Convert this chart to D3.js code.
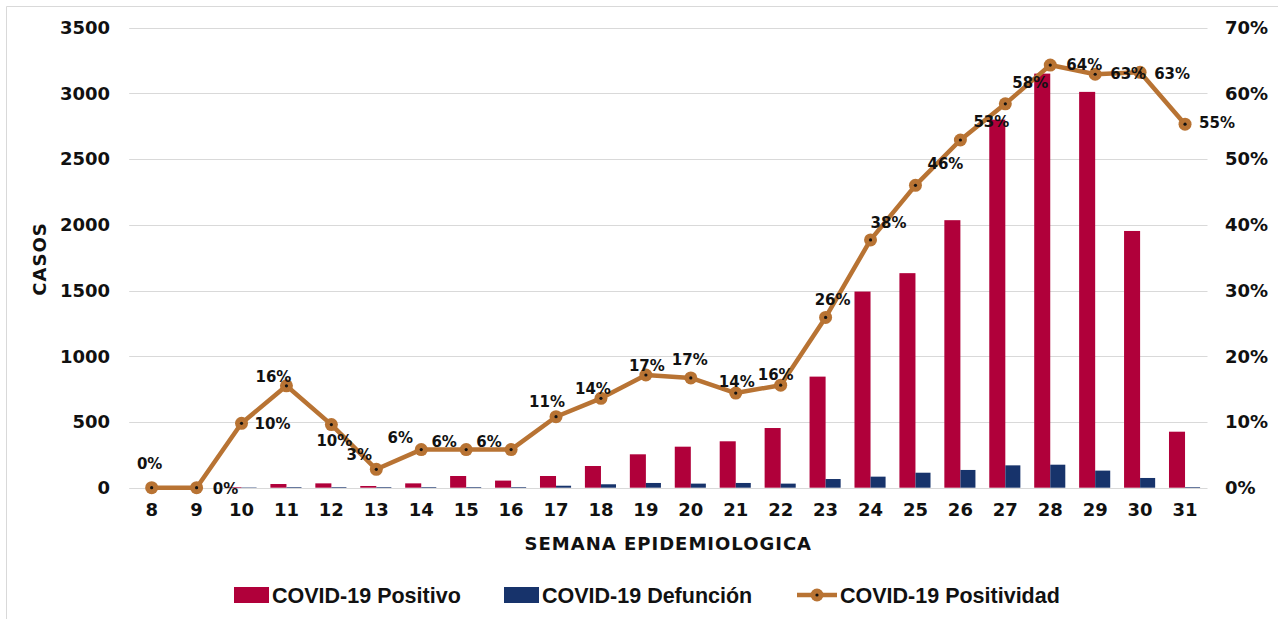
<!DOCTYPE html>
<html>
<head>
<meta charset="utf-8">
<script src="https://cdn.jsdelivr.net/npm/d3@7/dist/d3.min.js"></script>
<style>
  html, body { margin: 0; padding: 0; background: #fff; }
  svg { display: block; }
</style>
</head>
<body>
<svg id="chart" width="1278" height="619"></svg>
<script>
// ---- Data ----
const weeks = ["8","9","10","11","12","13","14","15","16","17","18","19","20","21","22","23","24","25","26","27","28","29","30","31"];
const positivo = [0,0,5,28,33,13,33,89,54,89,165,254,312,353,454,845,1492,1632,2035,2800,3150,3011,1953,426];
const defuncion = [0,0,3,5,5,5,5,5,5,15,26,36,31,36,31,66,84,114,135,170,175,130,74,5];
const positividad = [0,0,9.8,15.5,9.6,2.8,5.8,5.8,5.8,10.8,13.6,17.15,16.7,14.4,15.6,25.9,37.7,46.0,52.9,58.4,64.3,62.9,63.2,55.3];
const leftTicks = [0,500,1000,1500,2000,2500,3000,3500];
const rightTicks = [0,10,20,30,40,50,60,70];
const seriesNames = ["COVID-19 Positivo","COVID-19 Defunción","COVID-19 Positividad"];

// label placement offsets (layout, not data)
const labelOffsets = [[-2,-24],[29,1],[31,0],[-13,-9],[3,16],[-17,-15],[-21,-12],[-22,-8],[-22,-8],
  [-9,-15],[-8,-10],[1,-9],[-1,-18],[1,-11],[-5,-10],[7,-18],[18,-17],[30,-22],[31,-18],[25,-21],
  [34,0],[33,-1],[32,1],[32,-1]];

const colors = { pos: "#B0003A", def: "#17336B", line: "#B87333", grid: "#D9D9D9" };
const axisFont = "DejaVu Sans, sans-serif";

const svg = d3.select("#chart");

// frame
svg.append("path").attr("d", "M6.5,619 L6.5,6.5 L1278,6.5").attr("fill","none").attr("stroke","#D9D9D9").attr("stroke-width",1);

const plot = { left: 129.2, right: 1207.5, top: 27.6, bottom: 487.7 };

const x = d3.scaleBand().domain(weeks).range([plot.left, plot.right]).padding(0);
const xSub = d3.scaleBand().domain(["pos","def"]).range([0, x.bandwidth()]).paddingInner(0).paddingOuter(0.4);
const yL = d3.scaleLinear().domain([0,3500]).range([plot.bottom, plot.top]);
const yR = d3.scaleLinear().domain([0,70]).range([plot.bottom, plot.top]);

// gridlines
svg.append("g").selectAll("line").data(leftTicks).join("line")
  .attr("x1", plot.left).attr("x2", plot.right)
  .attr("y1", d => Math.round(yL(d)) + 0.5).attr("y2", d => Math.round(yL(d)) + 0.5)
  .attr("stroke", colors.grid).attr("stroke-width", 1);

// left axis
const leftAxis = d3.axisLeft(yL).tickValues(leftTicks).tickSize(0).tickPadding(0).tickFormat(d3.format("d"));
const gL = svg.append("g").attr("transform", "translate(110,0)").call(leftAxis);
gL.select(".domain").remove();
gL.selectAll("text").attr("font-family", axisFont).attr("font-weight", "bold").attr("font-size", 18).attr("fill", "#111");

// right axis
const rightAxis = d3.axisRight(yR).tickValues(rightTicks).tickSize(0).tickPadding(0).tickFormat(d => d + "%");
const gR = svg.append("g").attr("transform", "translate(1225,0)").call(rightAxis);
gR.select(".domain").remove();
gR.selectAll("text").attr("font-family", axisFont).attr("font-weight", "bold").attr("font-size", 18).attr("fill", "#111");

// bottom axis
const bottomAxis = d3.axisBottom(x).tickSize(0).tickPadding(0);
const gB = svg.append("g").attr("transform", `translate(0,${plot.bottom + 16})`).call(bottomAxis);
gB.select(".domain").remove();
gB.selectAll("text").attr("font-family", axisFont).attr("font-weight", "bold").attr("font-size", 18).attr("fill", "#111");

// axis titles
svg.append("text").attr("x", plot.left + (plot.right - plot.left)/2).attr("y", 550)
  .attr("text-anchor","middle").attr("font-family", axisFont).attr("font-weight","bold").attr("font-size",18).attr("fill","#111")
  .attr("letter-spacing", 1)
  .text("SEMANA EPIDEMIOLOGICA");
svg.append("text").attr("transform","translate(46,259) rotate(-90)")
  .attr("text-anchor","middle").attr("font-family", axisFont).attr("font-weight","bold").attr("font-size",18).attr("fill","#111")
  .attr("letter-spacing", 1)
  .text("CASOS");

// bars
const gBars = svg.append("g");
gBars.selectAll("rect.pos").data(weeks).join("rect").attr("class","pos")
  .attr("x", (d) => x(d) + xSub("pos")).attr("width", xSub.bandwidth())
  .attr("y", (d,i) => yL(positivo[i])).attr("height", (d,i) => plot.bottom - yL(positivo[i]))
  .attr("fill", colors.pos);
gBars.selectAll("rect.def").data(weeks).join("rect").attr("class","def")
  .attr("x", (d) => x(d) + xSub("def")).attr("width", xSub.bandwidth() - 1)
  .attr("y", (d,i) => yL(defuncion[i])).attr("height", (d,i) => plot.bottom - yL(defuncion[i]))
  .attr("fill", colors.def);

// line
const cx = d => x(d) + x.bandwidth()/2;
const line = d3.line().x((d,i) => cx(weeks[i])).y(d => yR(d));
svg.append("path").datum(positividad).attr("d", line)
  .attr("fill","none").attr("stroke", colors.line).attr("stroke-width", 4.5).attr("stroke-linejoin","round");
const gPts = svg.append("g");
gPts.selectAll("circle.m").data(positividad).join("circle").attr("class","m")
  .attr("cx", (d,i) => cx(weeks[i])).attr("cy", d => yR(d)).attr("r", 6.5).attr("fill", colors.line);
gPts.selectAll("circle.c").data(positividad).join("circle").attr("class","c")
  .attr("cx", (d,i) => cx(weeks[i])).attr("cy", d => yR(d)).attr("r", 1.6).attr("fill", "#111");

// data labels
svg.append("g").selectAll("text").data(positividad).join("text")
  .attr("x", (d,i) => cx(weeks[i]) + labelOffsets[i][0])
  .attr("y", (d,i) => yR(d) + labelOffsets[i][1])
  .attr("dy","0.35em").attr("text-anchor","middle")
  .attr("font-family", axisFont).attr("font-weight","bold").attr("font-size",15).attr("fill","#111")
  .text(d => Math.round(d) + "%");

// legend
const legendFont = "Liberation Sans, Arial, sans-serif";
const lg = svg.append("g");
const legendItems = [
  { name: seriesNames[0], type: "rect", color: colors.pos, sx: 234 },
  { name: seriesNames[1], type: "rect", color: colors.def, sx: 504 },
  { name: seriesNames[2], type: "line", color: colors.line, sx: 797 }
];
const ly = 595;
legendItems.forEach(it => {
  if (it.type === "rect") {
    lg.append("rect").attr("x", it.sx).attr("y", ly - 8).attr("width", 35).attr("height", 16).attr("fill", it.color);
  } else {
    lg.append("line").attr("x1", it.sx).attr("x2", it.sx + 40).attr("y1", ly).attr("y2", ly).attr("stroke", it.color).attr("stroke-width", 4.5);
    lg.append("circle").attr("cx", it.sx + 20).attr("cy", ly).attr("r", 6.5).attr("fill", it.color);
    lg.append("circle").attr("cx", it.sx + 20).attr("cy", ly).attr("r", 1.6).attr("fill", "#111");
  }
  lg.append("text").attr("x", it.sx + (it.type === "rect" ? 38 : 43)).attr("y", ly).attr("dy","0.35em")
    .attr("font-family", legendFont).attr("font-weight","bold").attr("font-size",21.5).attr("fill","#111")
    .text(it.name);
});
</script>
</body>
</html>
